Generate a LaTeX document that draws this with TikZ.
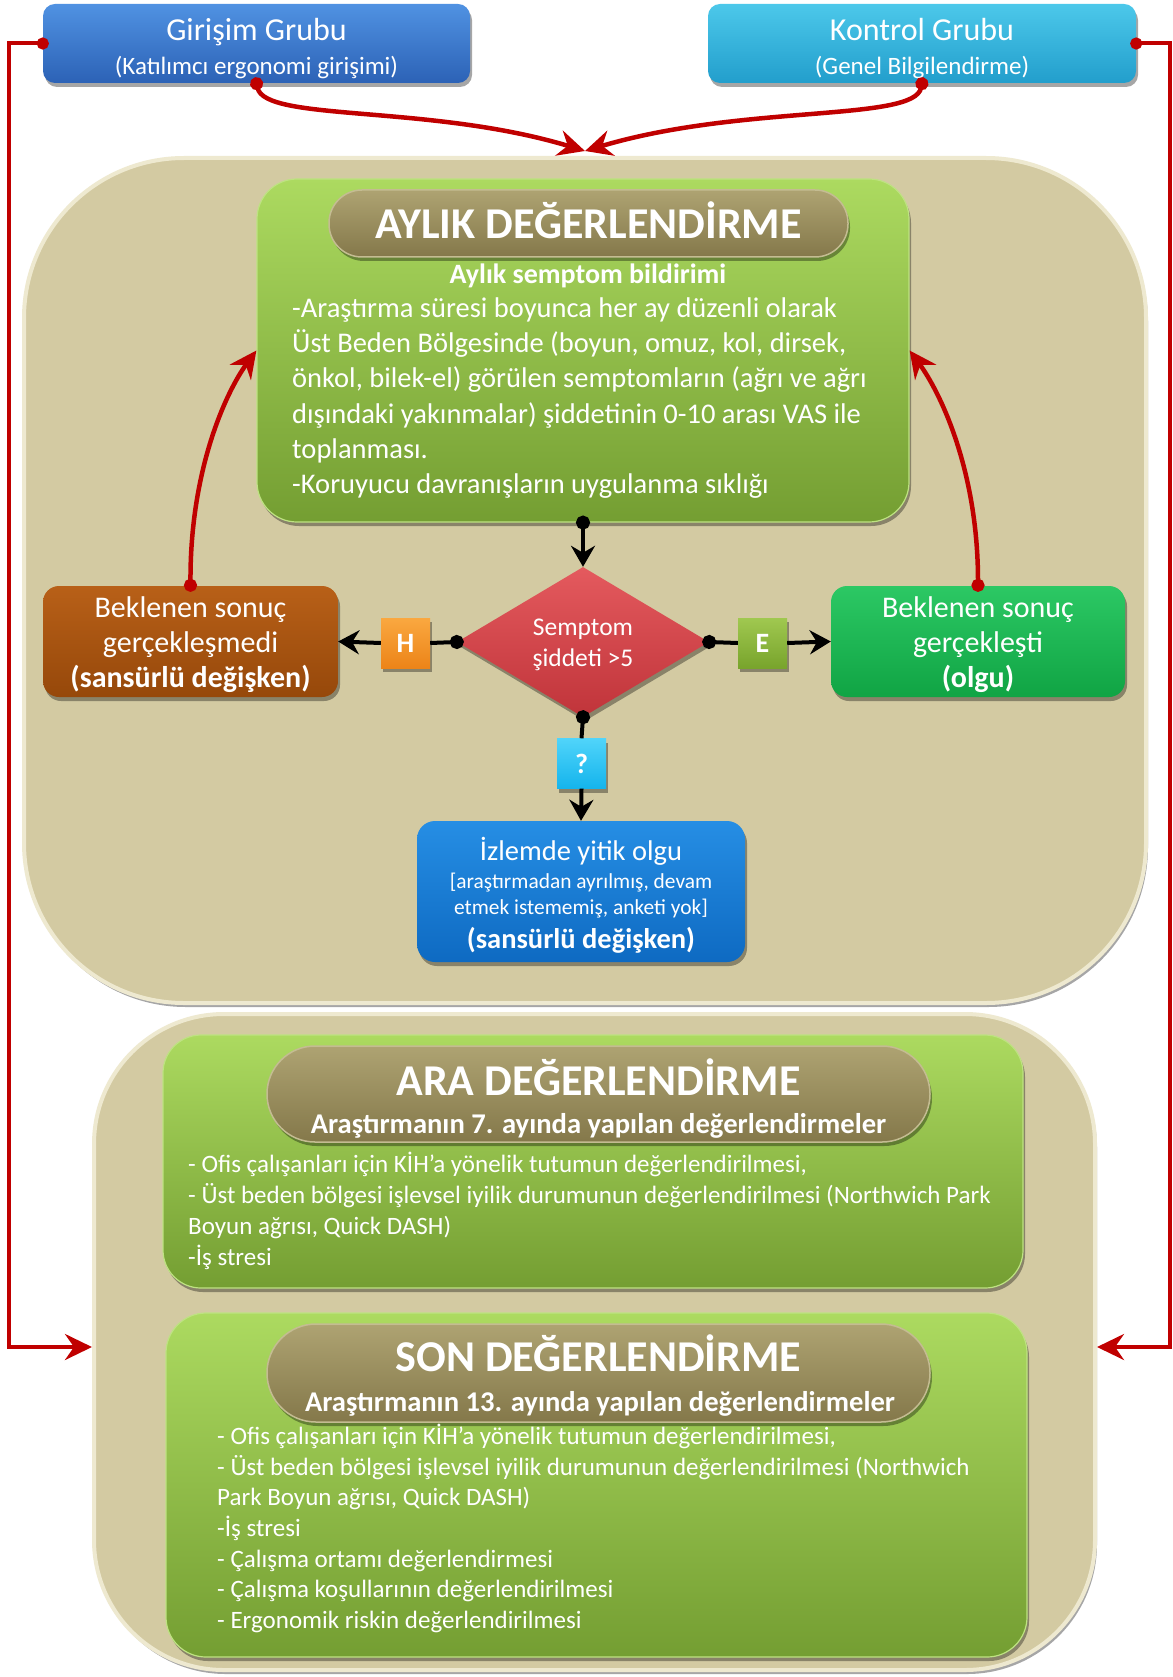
\documentclass[tikz,border=0pt]{standalone}
\usepackage{fontspec}
\setmainfont{Carlito}
\usetikzlibrary{arrows.meta,shapes.geometric,shadows}

% palette
\definecolor{linkred}{RGB}{192,0,0}
\definecolor{panelfill}{RGB}{211,202,162}
\definecolor{panelrim}{RGB}{238,233,208}
\definecolor{leaftop}{RGB}{172,218,96}
\definecolor{leafbot}{RGB}{116,158,50}
\definecolor{leafedge}{RGB}{190,226,130}
\definecolor{pilltop}{RGB}{174,163,114}
\definecolor{pillbot}{RGB}{132,120,74}
\definecolor{pilledge}{RGB}{196,188,146}
\definecolor{blueA}{RGB}{80,146,226}
\definecolor{blueB}{RGB}{44,98,182}
\definecolor{cyanA}{RGB}{76,200,234}
\definecolor{cyanB}{RGB}{34,158,204}
\definecolor{rustA}{RGB}{184,96,24}
\definecolor{rustB}{RGB}{150,72,10}
\definecolor{okA}{RGB}{44,200,100}
\definecolor{okB}{RGB}{16,164,68}
\definecolor{lostA}{RGB}{38,142,228}
\definecolor{lostB}{RGB}{14,106,194}
\definecolor{decA}{RGB}{228,90,94}
\definecolor{decB}{RGB}{192,52,58}
\definecolor{tagHA}{RGB}{250,168,64}
\definecolor{tagHB}{RGB}{236,132,24}
\definecolor{tagEA}{RGB}{160,200,80}
\definecolor{tagEB}{RGB}{120,164,44}
\definecolor{tagQA}{RGB}{80,212,250}
\definecolor{tagQB}{RGB}{20,180,236}

\tikzset{
  softshadow/.style={drop shadow={shadow xshift=2pt,shadow yshift=-4pt,opacity=0.35,fill=black}},
  panel/.style={rectangle,fill=panelfill,draw=panelrim,line width=4pt,softshadow,inner sep=0pt},
  leaf/.style={rectangle,rounded corners=40pt,top color=leaftop,bottom color=leafbot,draw=leafedge,line width=1.2pt,softshadow,inner sep=0pt},
  pill/.style={rectangle,top color=pilltop,bottom color=pillbot,draw=pilledge,line width=1.5pt,softshadow,inner sep=0pt},
  card/.style={rectangle,rounded corners=16pt,text=white,align=center,inner sep=0pt,softshadow},
  tag/.style={rectangle,minimum width=49pt,minimum height=50pt,inner sep=0pt,text=white,font=\bfseries\fontsize{28}{30}\selectfont,softshadow},
  txt/.style={text=white,inner sep=0pt},
  redlink/.style={draw=linkred,line width=4.5pt,shorten <=-6pt,{Circle[length=13pt]}-{Stealth[length=27pt,width=26pt,inset=9pt]}},
  redelbow/.style={draw=linkred,line width=4pt,shorten <=-6pt,{Circle[length=12pt]}-{Stealth[length=27pt,width=26pt,inset=9pt]}},
  blackdot/.style={draw=black,line width=4pt,shorten <=-7pt,{Circle[length=14pt]}-},
  blackarrow/.style={draw=black,line width=4pt,-{Stealth[length=21pt,width=24pt,inset=7pt]}},
  blacklink/.style={draw=black,line width=4pt,shorten <=-7pt,{Circle[length=14pt]}-{Stealth[length=21pt,width=24pt,inset=7pt]}},
}

\begin{document}
\begin{tikzpicture}[x=1pt,y=-1pt]
\fill[white] (0,0) rectangle (1172,1677);
\useasboundingbox (0,0) rectangle (1172,1677);

% background panels
\node[panel,rounded corners=160pt,minimum width=1122pt,minimum height=845pt] (monthly) at (585,580.5) {};
\node[panel,rounded corners=130pt,minimum width=1001pt,minimum height=656pt] (followup) at (594.5,1342) {};

% study groups
\node[card,rounded corners=12pt,top color=blueA,bottom color=blueB,minimum width=427pt,minimum height=79pt,font=\fontsize{25}{34}\selectfont] (girisim) at (256.5,43.5)
  {\rule{0pt}{32pt}{\fontsize{32}{34}\selectfont Girişim Grubu}\\(Katılımcı ergonomi girişimi)};
\node[card,rounded corners=12pt,top color=cyanA,bottom color=cyanB,minimum width=428pt,minimum height=79pt,font=\fontsize{25}{34}\selectfont] (kontrol) at (922,43.5)
  {\rule{0pt}{32pt}{\fontsize{32}{34}\selectfont Kontrol Grubu}\\(Genel Bilgilendirme)};

% monthly assessment
\node[leaf,minimum width=652pt,minimum height=343pt] (aylik) at (583,350.5) {};
\node[pill,rounded corners=33pt,minimum width=519pt,minimum height=67pt] (aylikpill) at (588.5,223.5) {};
\node[txt,font=\bfseries\fontsize{44}{48}\selectfont] (aylikhead) at (588.5,220) {AYLIK DEĞERLENDİRME};
\node[txt,font=\bfseries\fontsize{28}{32}\selectfont] (aylikline) at (588,276) {Aylık semptom bildirimi};
\node[txt,align=left,anchor=base west,font=\fontsize{28.5}{35.2}\selectfont] (aylikbody) at (292,493.5)
  {-Araştırma süresi boyunca her ay düzenli olarak\\
   Üst Beden Bölgesinde (boyun, omuz, kol, dirsek,\\
   önkol, bilek-el) görülen semptomların (ağrı ve ağrı\\
   dışındaki yakınmalar) şiddetinin 0-10 arası VAS ile\\
   toplanması.\\
   -Koruyucu davranışların uygulanma sıklığı};

% decision and outcomes
\node[diamond,aspect=1.68,minimum width=252pt,minimum height=150pt,inner sep=0pt,top color=decA,bottom color=decB,softshadow,text=white,align=center,font=\fontsize{25.5}{31}\selectfont] (decide) at (583,642)
  {\rule{0pt}{23pt}Semptom\\şiddeti >5};
\node[card,rounded corners=16pt,top color=rustA,bottom color=rustB,minimum width=295pt,minimum height=111pt,font=\fontsize{30}{35}\selectfont] (missed) at (190.5,641.5)
  {\rule{0pt}{28pt}Beklenen sonuç\\gerçekleşmedi\\\textbf{(sansürlü değişken)}};
\node[card,rounded corners=16pt,top color=okA,bottom color=okB,minimum width=294pt,minimum height=111pt,font=\fontsize{30}{35}\selectfont] (event) at (978,641.5)
  {\rule{0pt}{28pt}Beklenen sonuç\\gerçekleşti\\\textbf{(olgu)}};
\node[card,rounded corners=18pt,top color=lostA,bottom color=lostB,minimum width=328pt,minimum height=141pt,font=\fontsize{21.4}{26}\selectfont] (lost) at (581,891.5)
  {\rule{0pt}{30pt}{\fontsize{28.5}{26}\selectfont İzlemde yitik olgu}\\[2pt]
   [araştırmadan ayrılmış, devam\\
   etmek istememiş, anketi yok]\\[8pt]
   {\fontsize{28.5}{26}\selectfont\bfseries (sansürlü değişken)}};
\node[tag,top color=tagHA,bottom color=tagHB] (tagH) at (405.5,643) {H};
\node[tag,top color=tagEA,bottom color=tagEB] (tagE) at (762.5,643) {E};
\node[tag,top color=tagQA,bottom color=tagQB] (tagQ) at (581.5,763.5) {?};

% interim assessment
\node[leaf,rounded corners=38pt,minimum width=860pt,minimum height=253pt] (ara) at (593,1161.5) {};
\node[pill,rounded corners=48pt,minimum width=663pt,minimum height=96pt] (arapill) at (598.5,1094) {};
\node[txt,font=\bfseries\fontsize{44}{48}\selectfont] (arahead) at (598.5,1077) {ARA DEĞERLENDİRME};
\node[txt,font=\bfseries\fontsize{28.6}{32}\selectfont] (araline) at (598.5,1126) {Araştırmanın 7. ayında yapılan değerlendirmeler};
\node[txt,align=left,anchor=base west,font=\fontsize{25}{31}\selectfont] (arabody) at (188,1265.5)
  {- Ofis çalışanları için KİH’a yönelik tutumun değerlendirilmesi,\\
   - Üst beden bölgesi işlevsel iyilik durumunun değerlendirilmesi (Northwich Park\\
   Boyun ağrısı, Quick DASH)\\
   -İş stresi};

% final assessment
\node[leaf,rounded corners=40pt,minimum width=861pt,minimum height=344pt] (son) at (596.5,1485) {};
\node[pill,rounded corners=49pt,minimum width=663pt,minimum height=98pt] (sonpill) at (598.5,1373) {};
\node[txt,font=\bfseries\fontsize{44}{48}\selectfont] (sonhead) at (598.5,1353) {SON DEĞERLENDİRME};
\node[txt,font=\bfseries\fontsize{28.6}{32}\selectfont] (sonline) at (600,1404) {Araştırmanın 13. ayında yapılan değerlendirmeler};
\node[txt,align=left,anchor=base west,font=\fontsize{25}{30.7}\selectfont] (sonbody) at (217,1628.5)
  {- Ofis çalışanları için KİH’a yönelik tutumun değerlendirilmesi,\\
   - Üst beden bölgesi işlevsel iyilik durumunun değerlendirilmesi (Northwich\\
   Park Boyun ağrısı, Quick DASH)\\
   -İş stresi\\
   - Çalışma ortamı değerlendirmesi\\
   - Çalışma koşullarının değerlendirilmesi\\
   - Ergonomik riskin değerlendirilmesi};

% group links into the monthly panel
\draw[redlink] (girisim.south) .. controls (265,122) and (430,104) .. ([yshift=5pt]monthly.north);
\draw[redlink] (kontrol.south) .. controls (914,122) and (742,104) .. ([yshift=5pt]monthly.north);

% group links into the follow-up panel
\draw[redelbow] (girisim.west) -- ++(-34,0) |- ([yshift=-5pt]followup.west);
\draw[redelbow] (kontrol.east) -- ++(34,0) |- ([yshift=-5pt]followup.east);

% feedback into the monthly report
\draw[redlink] (missed.north) .. controls (190,470) and (226,392) .. (aylik.west);
\draw[redlink] (event.north) .. controls (978,470) and (940,392) .. (aylik.east);

% decision flow
\draw[blacklink] (aylik.south) -- (decide.north);
\draw[blackdot] (decide.west) -- (tagH.east);
\draw[blackarrow] (tagH.west) -- (missed.east);
\draw[blackdot] (decide.east) -- (tagE.west);
\draw[blackarrow] (tagE.east) -- (event.west);
\draw[blackdot] (decide.south) -- (tagQ.north);
\draw[blackarrow] (tagQ.south) -- (lost.north);
\end{tikzpicture}
\end{document}
